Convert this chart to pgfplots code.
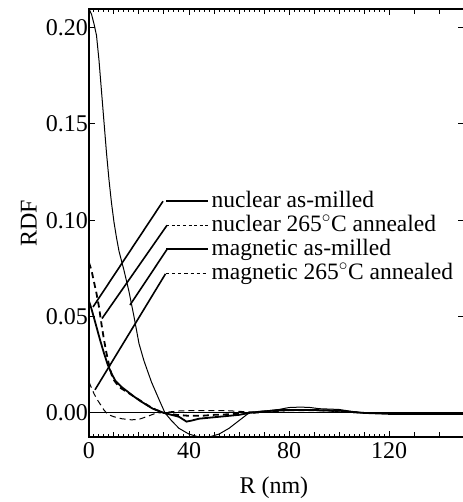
\documentclass[border=0pt]{standalone}
\usepackage{pgfplots}
\pgfplotsset{compat=1.18}
\usepackage{fontspec}
\setmainfont{Liberation Serif}
\tikzset{leg/.style={anchor=base west, inner sep=0pt, yshift=-6bp, font=\fontsize{23.5bp}{24bp}\selectfont}}
\begin{document}
\fontsize{24bp}{26bp}\selectfont
\begin{tikzpicture}
\begin{axis}[
  scale only axis, width=375bp, height=428bp,
  xmin=0, xmax=150, ymin=-0.0125, ymax=0.2097,
  axis line style={line width=1.8bp},
  xtick={0,40,80,120},
  ytick={0,0.05,0.10,0.15,0.20},
  minor x tick num=19,
  extra x ticks={10,20,30,50,60,70,90,100,110,130,140},
  extra x tick labels={},
  extra x tick style={major tick length=5bp},
  tick align=inside,
  major tick length=6bp, minor tick length=3.5bp,
  xtick pos=both, ytick pos=both,
  tick style={line width=1bp, black},
  /pgf/number format/assume math mode=true,
  yticklabel style={/pgf/number format/.cd, fixed, fixed zerofill, precision=2, /tikz/.cd, inner sep=1bp},
  xticklabel style={inner sep=1bp, yshift=-4bp},
  xlabel={R (nm)}, ylabel={RDF},
  every axis x label/.style={at={(axis description cs:0.493,-0.131)}, anchor=base, inner sep=0pt},
  every axis y label/.style={at={(axis description cs:-0.139,0.5)}, rotate=90, anchor=south, inner sep=0pt},
]
\coordinate (bl) at (rel axis cs:0,0);
\coordinate (tr) at (rel axis cs:1,1);
% zero line
\addplot[black, line width=1bp] coordinates {(0,0) (150,0)};
% magnetic as-milled (thin solid)
\addplot[black, line width=1bp] coordinates {
(0,0.2097) (1,0.207) (2,0.202) (3,0.196) (4,0.183) (5,0.167) (6,0.151) (7,0.135) (8,0.121)
(9,0.109) (10,0.099) (11,0.091) (12,0.084) (14,0.074) (16,0.063) (18,0.050) (20,0.036)
(22,0.027) (25,0.016) (28,0.007) (30.4,0.0) (33,-0.004) (36,-0.008) (40,-0.011) (44,-0.0125)
(48,-0.0125) (52,-0.011) (56,-0.008) (60,-0.004) (64,0.0) (68,0.0008) (72,0.0012) (76,0.0018)
(80,0.0028) (84,0.003) (88,0.0029) (92,0.0022) (96,0.002) (100,0.0018) (104,0.001) (108,0.0003)
(112,0.0) (120,0.0) (135,-0.0002) (150,-0.0002)};
% nuclear as-milled (thick solid)
\addplot[black, line width=1.8bp] coordinates {
(0,0.058) (1,0.054) (2.5,0.047) (4.4,0.038) (6,0.031) (7.5,0.025) (9,0.0205) (10.5,0.0168)
(13,0.0135) (15.5,0.011) (18,0.0085) (20.5,0.0062) (23,0.0042) (25.5,0.0022) (28,0.001) (30,0.0)
(33,-0.001) (36,-0.002) (39,-0.0045) (41,-0.004) (44,-0.003) (48,-0.0025) (52,-0.002)
(56,-0.0015) (60,-0.001) (64,0.0) (68,0.0005) (72,0.001) (76,0.0015) (80,0.0015) (90,0.0015)
(100,0.0012) (105,0.0005) (110,0.0) (120,-0.0005) (150,-0.0005)};
% nuclear 265C annealed (thick dashed)
\addplot[black, line width=1.8bp, dash pattern=on 6bp off 4bp] coordinates {
(0,0.078) (1,0.074) (2,0.068) (3,0.062) (4,0.055) (5,0.046) (6,0.038) (7,0.031) (8,0.025)
(9,0.020) (10,0.017) (12,0.0135) (15,0.011) (18,0.0085) (21,0.006) (24,0.0035) (27,0.0015)
(30,0.0) (35,-0.001) (40,-0.0015) (45,-0.0015) (50,-0.001) (60,-0.0005) (70,0.0005)
(80,0.0015) (90,0.0015) (100,0.001) (110,0.0) (150,0.0)};
% magnetic 265C annealed (thin dashed)
\addplot[black, line width=1bp, dash pattern=on 6bp off 4bp] coordinates {
(0,0.016) (1,0.013) (2,0.010) (3,0.0075) (4,0.0055) (5,0.0035) (6,0.0015) (7,0.0) (8,-0.001)
(10,-0.002) (13,-0.003) (17,-0.0036) (20,-0.0033) (23,-0.002) (26,-0.0005) (28,0.0)
(32,0.0005) (36,0.001) (40,0.0012) (50,0.0012) (55,0.0012) (60,0.0008) (65,0.0005)
(70,0.0008) (76,0.001) (82,0.0012) (90,0.0012) (96,0.001) (100,0.0005) (110,0.0) (150,0.0)};
% legend with pointer lines
\draw[line width=1.6bp] (axis cs:29.6,0.1099) -- (axis cs:1.6,0.055);
\draw[line width=1.6bp] (axis cs:31.2,0.0974) -- (axis cs:5.2,0.049);
\draw[line width=1.6bp] (axis cs:31.2,0.0849) -- (axis cs:16.4,0.056);
\draw[line width=1.6bp] (axis cs:30.6,0.0722) -- (axis cs:2.4,0.012);
\draw[line width=1.5bp] (axis cs:31,0.1099) -- (axis cs:47.6,0.1099);
\draw[line width=1.5bp, dash pattern=on 3bp off 2.5bp] (axis cs:31,0.0974) -- (axis cs:47.6,0.0974);
\draw[line width=1.8bp] (axis cs:31,0.0849) -- (axis cs:47.6,0.0849);
\draw[line width=1bp, dash pattern=on 3bp off 3bp] (axis cs:31,0.0722) -- (axis cs:47.6,0.0722);
\node[leg] at (axis cs:49,0.1099) {nuclear as-milled};
\node[leg] at (axis cs:49,0.0974) {nuclear 265$^\circ$C annealed};
\node[leg] at (axis cs:49,0.0849) {magnetic as-milled};
\node[leg] at (axis cs:49,0.0722) {magnetic 265$^\circ$C annealed};
\end{axis}
\pgfresetboundingbox
\path ([shift={(-89bp,-65bp)}]bl) rectangle ([shift={(-1bp,9bp)}]tr);
\end{tikzpicture}
\end{document}
